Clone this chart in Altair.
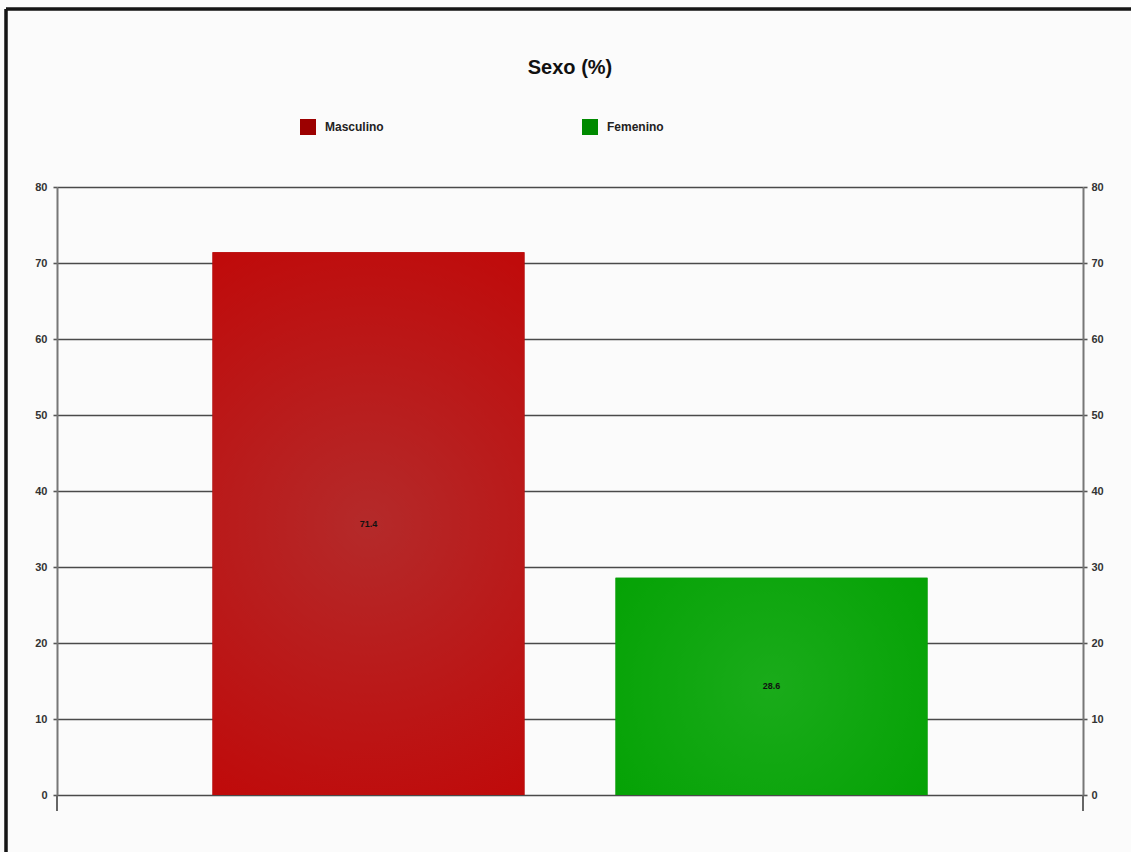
import altair as alt
import pandas as pd

# ---- data ----
categories = ["Masculino", "Femenino"]
values = [71.4, 28.6]
group = ["Sexo", "Sexo"]
y_ticks = [0, 10, 20, 30, 40, 50, 60, 70, 80]
legend_colors = ["#9c0000", "#008a00"]

df = pd.DataFrame({"grupo": group, "sexo": categories, "valor": values})

W, H = 1026, 608
FONT = "Liberation Sans"

red_grad = alt.RadialGradient(
    gradient="radial", x1=0.5, y1=0.5, r1=0, x2=0.5, y2=0.5, r2=0.75,
    stops=[alt.GradientStop(offset=0, color="#b42a2a"),
           alt.GradientStop(offset=1, color="#c30000")])
green_grad = alt.RadialGradient(
    gradient="radial", x1=0.5, y1=0.5, r1=0, x2=0.5, y2=0.5, r2=0.75,
    stops=[alt.GradientStop(offset=0, color="#1aab1a"),
           alt.GradientStop(offset=1, color="#00a000")])

x_enc = alt.X("grupo:N", axis=None,
              scale=alt.Scale(paddingInner=0, paddingOuter=0.2175))
xo_enc = alt.XOffset("sexo:N", sort=categories,
                     scale=alt.Scale(paddingInner=0.226, paddingOuter=0))
y_scale = alt.Scale(domain=[0, 80], nice=False)

base = alt.Chart(df)

bars = base.mark_bar().encode(
    x=x_enc, xOffset=xo_enc,
    y=alt.Y("valor:Q", scale=y_scale, title=None,
            axis=alt.Axis(orient="left", values=y_ticks, grid=True,
                          gridColor="#4a4a4a", gridWidth=1.6,
                          domainColor="#777", domainWidth=2,
                          tickColor="#555", tickWidth=1.6, tickSize=4,
                          labelPadding=6, labelFontSize=11, labelFont=FONT,
                          labelFontWeight="bold", labelColor="#333")),
    color=alt.Color("sexo:N", sort=categories,
                    scale=alt.Scale(domain=categories, range=legend_colors),
                    legend=alt.Legend(title=None, orient="none", legendX=243, legendY=-68,
                                      direction="horizontal", columns=2, columnPadding=198,
                                      symbolType="square", symbolSize=256,
                                      symbolStrokeWidth=0, symbolOpacity=1,
                                      labelFont=FONT, labelFontSize=12,
                                      labelFontWeight="bold",
                                      labelColor="#222", labelOffset=9)),
)

red_bar = base.transform_filter(alt.datum.sexo == "Masculino").mark_bar(color=red_grad).encode(
    x=x_enc, xOffset=xo_enc, y=alt.Y("valor:Q", scale=y_scale, axis=None))
green_bar = base.transform_filter(alt.datum.sexo == "Femenino").mark_bar(color=green_grad).encode(
    x=x_enc, xOffset=xo_enc, y=alt.Y("valor:Q", scale=y_scale, axis=None))

labels = base.transform_calculate(mid="datum.valor / 2").mark_text(
    fontSize=9, font=FONT, fontWeight="bold", color="#111").encode(
    x=x_enc, xOffset=xo_enc,
    y=alt.Y("mid:Q", scale=y_scale, title=None,
            axis=alt.Axis(orient="right", values=y_ticks, grid=False,
                          domainColor="#777", domainWidth=2,
                          tickColor="#555", tickWidth=1.6, tickSize=4,
                          labelPadding=4, labelFontSize=11, labelFont=FONT,
                          labelFontWeight="bold", labelColor="#333")),
    text=alt.Text("valor:Q", format=".1f"),
)

edge_ticks = alt.Chart(pd.DataFrame({"e": [0, W]})).mark_rule(
    color="#666", strokeWidth=2).encode(
    x=alt.X("e:Q", scale=alt.Scale(domain=[0, W], range=[0, W]), axis=None),
    y=alt.value(H), y2=alt.value(H + 16))

frame_left = base.mark_rule(color="#151515", strokeWidth=3).encode(
    x=alt.value(-51), y=alt.value(-178), y2=alt.value(H + 57))
frame_top = base.mark_rule(color="#151515", strokeWidth=3).encode(
    x=alt.value(-51), x2=alt.value(W + 48), y=alt.value(-178))

chart = alt.layer(bars, red_bar, green_bar, labels, edge_ticks, frame_left, frame_top).resolve_axis(
    y="independent"
).resolve_scale(x="independent").properties(
    width=W, height=H,
    autosize=alt.AutoSizeParams(type="none"),
    padding={"left": 57, "top": 187, "right": 48, "bottom": 57},
    background="#fbfbfb",
    title=alt.TitleParams("Sexo (%)", fontSize=20, fontWeight="bold", font=FONT,
                          anchor="middle", frame="group", offset=-70, color="#111"),
).configure_view(stroke=None)

chart.save("out.html", embed_options={"renderer": "svg", "actions": False})
